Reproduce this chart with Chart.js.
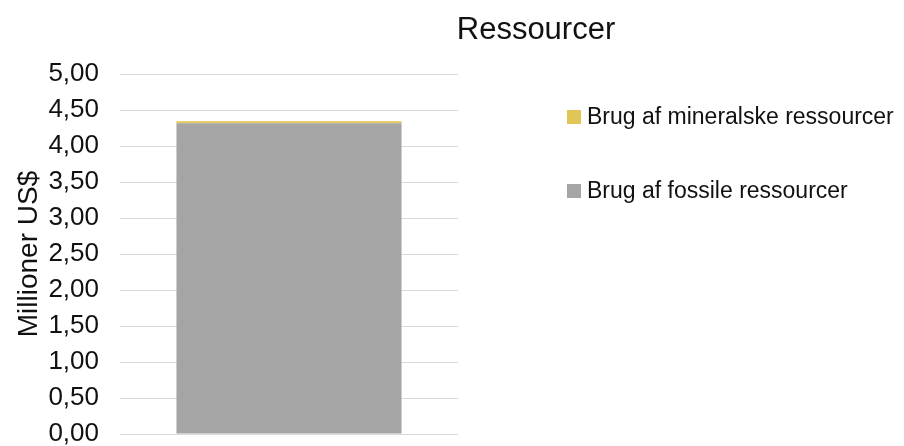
<!DOCTYPE html>
<html>
<head>
<meta charset="utf-8">
<script src="https://cdn.jsdelivr.net/npm/chart.js@4"></script>
<style>
  html, body { margin: 0; padding: 0; background: #fff; }
  canvas { display: block; }
</style>
</head>
<body>
<canvas id="chart" width="904" height="446"></canvas>
<script>
// Data
const categories = [""];
const fossilValues = [4.315];
const mineralValues = [0.028];
const seriesLabels = ["Brug af fossile ressourcer", "Brug af mineralske ressourcer"];
const chartTitle = "Ressourcer";
const yAxisTitle = "Millioner US$";

const COLORS = {
  fossil: "#a5a5a5",
  mineral: "#e2c655",
  grid: "#d9d9d9",
  ink: "#111111",
};
const FONT = "'Liberation Sans', Arial, sans-serif";

// title + right-hand legend drawn by hand (Excel-like placement)
const excelDecor = {
  id: "excelDecor",
  afterDraw(chart) {
    const ctx = chart.ctx;
    ctx.save();
    ctx.fillStyle = COLORS.ink;
    ctx.font = "31px " + FONT;
    ctx.textAlign = "center";
    ctx.textBaseline = "alphabetic";
    ctx.fillText(chartTitle, 536, 39);

    ctx.font = "23px " + FONT;
    ctx.textAlign = "left";
    const items = chart.data.datasets.slice().reverse();
    const baselines = [124, 198];
    items.forEach((ds, i) => {
      ctx.fillStyle = ds.backgroundColor;
      ctx.fillRect(567, baselines[i] - 14, 14, 14);
      ctx.fillStyle = COLORS.ink;
      ctx.fillText(ds.label, 587, baselines[i]);
    });
    ctx.restore();
  },
};

new Chart(document.getElementById("chart"), {
  type: "bar",
  data: {
    labels: categories,
    datasets: [
      { label: seriesLabels[0], data: fossilValues, backgroundColor: COLORS.fossil },
      { label: seriesLabels[1], data: mineralValues, backgroundColor: COLORS.mineral },
    ],
  },
  options: {
    responsive: false,
    animation: false,
    layout: { padding: { left: 12, right: 446, top: 74, bottom: 12 } },
    plugins: {
      legend: { display: false },
      title: { display: false },
      tooltip: { enabled: false },
    },
    datasets: { bar: { categoryPercentage: 0.666, barPercentage: 1 } },
    scales: {
      x: { stacked: true, display: false },
      y: {
        stacked: true,
        min: 0,
        max: 5,
        border: { display: false },
        grid: { color: COLORS.grid, drawTicks: false },
        // fixed axis width; drop the label overflow padding so the plot reaches the bottom
        afterFit: (scale) => {
          scale.width = 108;
          scale.paddingBottom = 0;
          scale.paddingTop = 0;
        },
        ticks: {
          stepSize: 0.5,
          padding: 21,
          color: COLORS.ink,
          font: { family: FONT, size: 26 },
          callback: (v) => v.toFixed(2).replace(".", ","),
        },
        title: {
          display: true,
          text: yAxisTitle,
          color: COLORS.ink,
          font: { family: FONT, size: 28 },
          padding: { top: 0, bottom: 0 },
        },
      },
    },
  },
  plugins: [excelDecor],
});
</script>
</body>
</html>
